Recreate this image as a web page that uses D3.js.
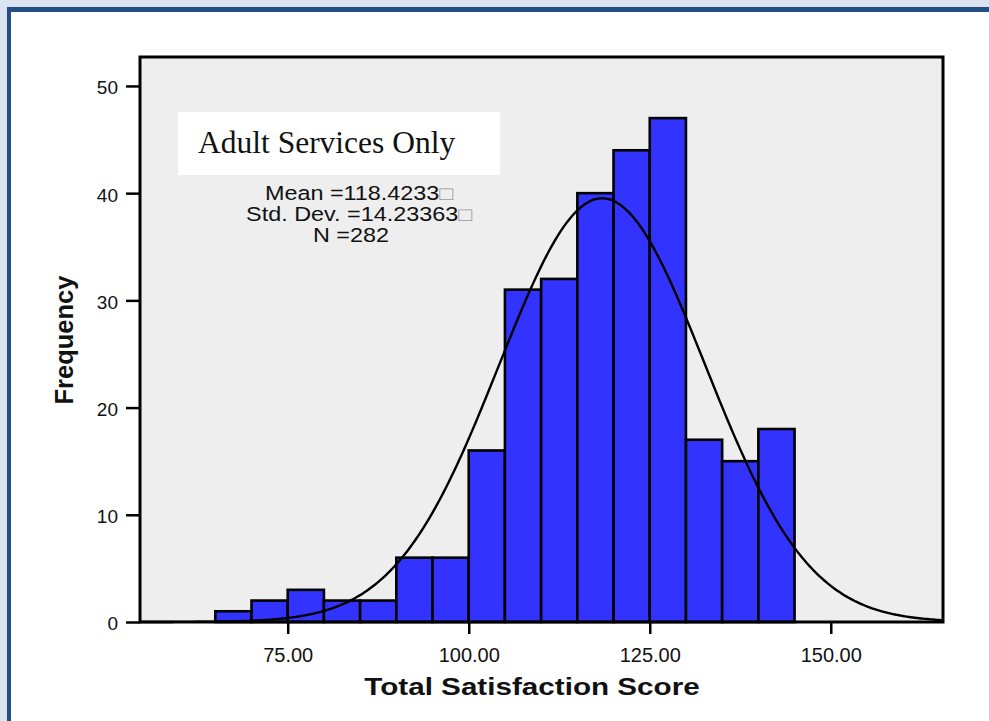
<!DOCTYPE html>
<html>
<head>
<meta charset="utf-8">
<script src="https://cdn.jsdelivr.net/npm/d3@7"></script>
<style>
  html, body { margin: 0; padding: 0; background: #ffffff; }
  svg { display: block; }
</style>
</head>
<body>
<svg id="chart" width="989" height="721"></svg>
<script>
// Histogram of total satisfaction scores (bins of 5 points)
const binStarts = [65, 70, 75, 80, 85, 90, 95, 100, 105, 110, 115, 120, 125, 130, 135, 140];
const binWidth = 5;
const frequencies = [1, 2, 3, 2, 2, 6, 6, 16, 31, 32, 40, 44, 47, 17, 15, 18];

// Summary statistics for the fitted normal curve
const meanValue = 118.4233;
const stdDev = 14.23363;
const nCount = 282;

// Axis ticks and labels
const xTicks = [75, 100, 125, 150];
const yTicks = [0, 10, 20, 30, 40, 50];
const xDomain = [54.6, 165.5];
const yDomain = [0, 52.7];
const chartTitle = "Adult Services Only";
const xTitle = "Total Satisfaction Score";
const yTitle = "Frequency";
const statLines = [
  { label: "Mean =", value: "118.4233", box: true },
  { label: "Std. Dev. =", value: "14.23363", box: true },
  { label: "N =", value: "282", box: false }
];

const svg = d3.select("#chart");
const W = 989, H = 721;

// Page frame
svg.append("rect").attr("width", W).attr("height", H).attr("fill", "#dbe5f1");
svg.append("rect").attr("x", 7).attr("y", 7).attr("width", W).attr("height", H).attr("fill", "#234f85");
svg.append("rect").attr("x", 11).attr("y", 12).attr("width", W).attr("height", H).attr("fill", "#ffffff");

const plot = { left: 140, right: 943, top: 57, bottom: 622 };

const x = d3.scaleLinear().domain(xDomain).range([plot.left, plot.right]);
const y = d3.scaleLinear().domain(yDomain).range([plot.bottom, plot.top]);

// Plot background
svg.append("rect")
  .attr("x", plot.left).attr("y", plot.top)
  .attr("width", plot.right - plot.left).attr("height", plot.bottom - plot.top)
  .attr("fill", "#eeeeee");

// Bars
svg.append("g").selectAll("rect")
  .data(binStarts.map((s, i) => ({ start: s, count: frequencies[i] })))
  .join("rect")
  .attr("x", d => x(d.start))
  .attr("y", d => y(d.count))
  .attr("width", d => x(d.start + binWidth) - x(d.start))
  .attr("height", d => y(0) - y(d.count))
  .attr("fill", "#3333ff")
  .attr("stroke", "#000000")
  .attr("stroke-width", 2.6);

// Fitted normal curve scaled to counts
const normal = v => nCount * binWidth / (stdDev * Math.sqrt(2 * Math.PI)) *
  Math.exp(-0.5 * Math.pow((v - meanValue) / stdDev, 2));
const curvePts = d3.range(0, 401).map(i => xDomain[0] + (xDomain[1] - xDomain[0]) * i / 400);
svg.append("path")
  .datum(curvePts)
  .attr("fill", "none")
  .attr("stroke", "#000000")
  .attr("stroke-width", 2.4)
  .attr("d", d3.line().x(v => x(v)).y(v => y(normal(v))).curve(d3.curveLinear));

// Plot frame
svg.append("rect")
  .attr("x", plot.left).attr("y", plot.top)
  .attr("width", plot.right - plot.left).attr("height", plot.bottom - plot.top)
  .attr("fill", "none").attr("stroke", "#000000").attr("stroke-width", 3);

// Axes
const xAxis = svg.append("g")
  .attr("transform", `translate(0,${plot.bottom})`)
  .call(d3.axisBottom(x).tickValues(xTicks).tickFormat(d3.format(".2f")).tickSize(12).tickSizeOuter(0).tickPadding(14));
xAxis.select(".domain").remove();
xAxis.selectAll(".tick line").attr("stroke", "#000").attr("stroke-width", 2.5);
xAxis.selectAll(".tick text")
  .attr("font-family", "Liberation Sans, Arial, sans-serif")
  .attr("font-size", 20).attr("fill", "#111");

const yAxis = svg.append("g")
  .attr("transform", `translate(${plot.left},0)`)
  .call(d3.axisLeft(y).tickValues(yTicks).tickSize(14).tickSizeOuter(0).tickPadding(8));
yAxis.select(".domain").remove();
yAxis.selectAll(".tick line").attr("stroke", "#000").attr("stroke-width", 2.5);
yAxis.selectAll(".tick text")
  .attr("font-family", "Liberation Sans, Arial, sans-serif")
  .attr("font-size", 19).attr("fill", "#111").attr("dy", "0.42em");

// Axis titles
svg.append("text")
  .attr("transform", "translate(532,695) scale(1.21,1)")
  .attr("text-anchor", "middle")
  .attr("font-family", "Liberation Sans, Arial, sans-serif")
  .attr("font-weight", "bold").attr("font-size", 24.5).attr("fill", "#111")
  .text(xTitle);

svg.append("text")
  .attr("transform", "translate(73,340) rotate(-90)")
  .attr("text-anchor", "middle")
  .attr("font-family", "Liberation Sans, Arial, sans-serif")
  .attr("font-weight", "bold").attr("font-size", 25.5).attr("fill", "#111")
  .text(yTitle);

// Title box
svg.append("rect")
  .attr("x", 178).attr("y", 112).attr("width", 322).attr("height", 63)
  .attr("fill", "#ffffff");
svg.append("text")
  .attr("x", 198).attr("y", 153)
  .attr("font-family", "Liberation Serif, Times New Roman, serif")
  .attr("font-size", 31.5).attr("fill", "#111")
  .text(chartTitle);

// Summary statistics
const statCenters = [359, 359, 351];
const statBaselines = [200, 221, 242];
statLines.forEach((s, i) => {
  const t = svg.append("text")
    .attr("transform", `translate(${statCenters[i]},${statBaselines[i]}) scale(1.2,1)`)
    .attr("text-anchor", "middle")
    .attr("font-family", "Liberation Sans, Arial, sans-serif")
    .attr("font-size", 19.5).attr("fill", "#111");
  t.append("tspan").text(s.label + s.value);
  if (s.box) {
    t.append("tspan").attr("fill", "#9a9a9a").attr("font-size", 19).text("\u25A1");
  }
});
</script>
</body>
</html>
